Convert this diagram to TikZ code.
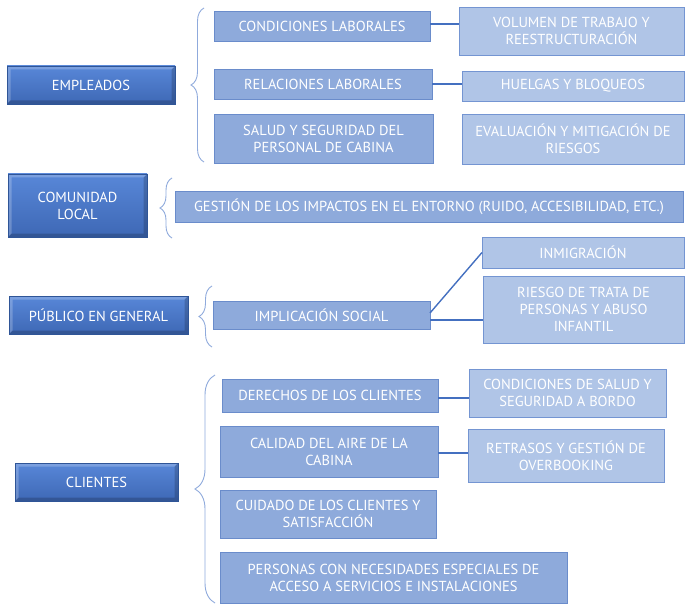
\documentclass[tikz,border=0pt]{standalone}
\usepackage{fontspec}
\setmainfont{PT Sans}
\usetikzlibrary{decorations.pathreplacing,calc}
\definecolor{darkfill}{HTML}{4A78C8}
\definecolor{darktop}{HTML}{5887D8}
\definecolor{darkbot}{HTML}{3E68B5}
\definecolor{darkline}{HTML}{2F5597}
\definecolor{midfill}{HTML}{8EAADB}
\definecolor{midline}{HTML}{6A8CCB}
\definecolor{lightfill}{HTML}{B0C5E7}
\definecolor{lightline}{HTML}{7495D2}
\definecolor{connc}{HTML}{4470C0}
\definecolor{bracec}{HTML}{8FAADC}
\newcommand\bx[7]{%
  \pgfmathsetmacro\bxcx{(#3+#5)/2}\pgfmathsetmacro\bxcy{(#4+#6)/2}%
  \pgfmathsetmacro\bxw{#5-#3}\pgfmathsetmacro\bxh{#6-#4}%
  \node[#2, minimum width=\bxw pt, minimum height=\bxh pt] (#1) at (\bxcx,\bxcy) {#7};}
\begin{document}
\begin{tikzpicture}[x=1pt,y=-1pt,
  basebox/.style={rectangle, inner sep=1pt, outer sep=0pt, align=center, text=white,
    font=\fontsize{14.5}{17}\selectfont},
  lvlone/.style={basebox, draw=darkline, line width=0.6pt, top color=darktop, bottom color=darkbot,
    path picture={
      \fill[white,opacity=0.22] (path picture bounding box.north west) -- (path picture bounding box.north east)
        -- ([xshift=-3.5pt,yshift=-3.5pt]path picture bounding box.north east)
        -- ([xshift=3.5pt,yshift=-3.5pt]path picture bounding box.north west)
        -- ([xshift=3.5pt,yshift=3.5pt]path picture bounding box.south west)
        -- (path picture bounding box.south west) -- cycle;
      \fill[black,opacity=0.18] (path picture bounding box.south east) -- (path picture bounding box.north east)
        -- ([xshift=-3.5pt,yshift=-3.5pt]path picture bounding box.north east)
        -- ([xshift=-3.5pt,yshift=3.5pt]path picture bounding box.south east)
        -- ([xshift=3.5pt,yshift=3.5pt]path picture bounding box.south west)
        -- (path picture bounding box.south west) -- cycle;
    }},
  lvltwo/.style={basebox, draw=midline, line width=0.8pt, fill=midfill},
  lvlthree/.style={basebox, draw=lightline, line width=0.8pt, fill=lightfill},
  conn/.style={draw=connc, line width=1.4pt},
  bracestyle/.style={draw=bracec, line width=0.9pt, decorate}
]
\useasboundingbox (0,0) rectangle (685,604);

% level 1
\bx{emp}{lvlone}{7}{66}{175}{104}{EMPLEADOS}
\bx{com}{lvlone}{8}{174}{147}{237}{COMUNIDAD\\LOCAL}
\bx{pub}{lvlone}{9}{296}{188}{334}{PÚBLICO EN GENERAL}
\bx{cli}{lvlone}{15}{463}{178}{501}{CLIENTES}

% level 2
\bx{cond}{lvltwo}{214}{11}{430}{41}{CONDICIONES LABORALES}
\bx{rel}{lvltwo}{214}{69}{432}{99}{RELACIONES LABORALES}
\bx{sal}{lvltwo}{214}{114}{433}{163}{SALUD Y SEGURIDAD DEL\\PERSONAL DE CABINA}
\bx{ges}{lvltwo}{175}{191}{683}{222}{GESTIÓN DE LOS IMPACTOS EN EL ENTORNO (RUIDO, ACCESIBILIDAD, ETC.)}
\bx{imp}{lvltwo}{213}{301}{430}{329}{IMPLICACIÓN SOCIAL}
\bx{der}{lvltwo}{222}{379}{438}{412}{DERECHOS DE LOS CLIENTES}
\bx{cal}{lvltwo}{220}{426}{438}{477}{CALIDAD DEL AIRE DE LA\\CABINA}
\bx{cui}{lvltwo}{220}{490}{436}{538}{CUIDADO DE LOS CLIENTES Y\\SATISFACCIÓN}
\bx{per}{lvltwo}{220}{552}{567}{603}{PERSONAS CON NECESIDADES ESPECIALES DE\\ACCESO A SERVICIOS E INSTALACIONES}

% level 3
\bx{vol}{lvlthree}{459}{7}{684}{55}{VOLUMEN DE TRABAJO Y\\REESTRUCTURACIÓN}
\bx{hue}{lvlthree}{462}{71}{684}{101}{HUELGAS Y BLOQUEOS}
\bx{eva}{lvlthree}{462}{114}{684}{164}{EVALUACIÓN Y MITIGACIÓN DE\\RIESGOS}
\bx{inm}{lvlthree}{482}{237}{684}{268}{INMIGRACIÓN}
\bx{rie}{lvlthree}{483}{276}{684}{343}{RIESGO DE TRATA DE\\PERSONAS Y ABUSO\\INFANTIL}
\bx{csb}{lvlthree}{469}{369}{666}{417}{CONDICIONES DE SALUD Y\\SEGURIDAD A BORDO}
\bx{ret}{lvlthree}{468}{429}{664}{482}{RETRASOS Y GESTIÓN DE\\OVERBOOKING}

% connector anchor points
\coordinate (c1) at ($(cond.east)+(0,-2)$);
\coordinate (c3a) at ($(imp.east)+(0,-2)$);
\coordinate (c3b) at ($(imp.east)+(0,5)$);
\coordinate (c4) at ($(der.east)+(0,2.5)$);
\coordinate (c5) at ($(cal.east)+(0,1.5)$);

% connectors
\draw[conn] (c1) -- (c1 -| vol.west);
\draw[conn] (rel.east) -- (rel.east -| hue.west);
\draw[conn] (c3a) -- (inm.west);
\draw[conn] (c3b) -- (c3b -| rie.west);
\draw[conn] (c4) -- (c4 -| csb.west);
\draw[conn] (c5) -- (c5 -| ret.west);

% braces
\coordinate (b1a) at (204,162); \coordinate (b1b) at (204,8);
\coordinate (b2a) at (172,238); \coordinate (b2b) at (172,178);
\coordinate (b3a) at (212,347); \coordinate (b3b) at (212,286);
\coordinate (b4a) at (215,603); \coordinate (b4b) at (215,375);
\draw[bracestyle, decoration={brace, amplitude=13pt}] (b1a) -- (b1b);
\draw[bracestyle, decoration={brace, amplitude=12pt}] (b2a) -- (b2b);
\draw[bracestyle, decoration={brace, amplitude=13pt}] (b3a) -- (b3b);
\draw[bracestyle, decoration={brace, amplitude=20pt}] (b4a) -- (b4b);
\end{tikzpicture}
\end{document}
